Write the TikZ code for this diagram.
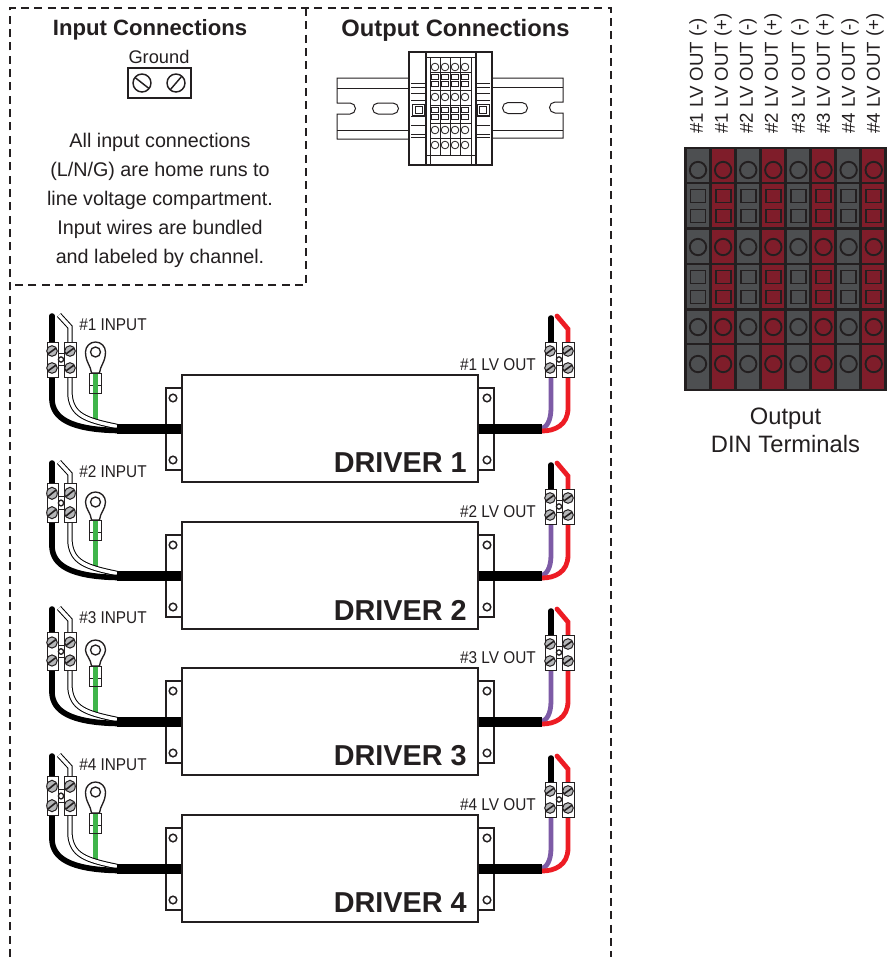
\documentclass[tikz,border=0pt]{standalone}
\usepackage{fontspec}
\setmainfont{Liberation Sans}
\newfontfamily\narrowfont[FakeStretch=.9]{Liberation Sans}
\usepackage{tikz}
\usetikzlibrary{
calc,
}
\definecolor{inkblack}{HTML}{231F20}
\definecolor{wiregreen}{HTML}{3FB54A}
\definecolor{wirepurple}{HTML}{7D5BA6}
\definecolor{wirered}{HTML}{ED1C24}
\definecolor{dingray}{HTML}{4D4F51}
\definecolor{dinred}{HTML}{7F1D2A}
\definecolor{screwgray}{HTML}{B5B6B8}
\tikzset{
	part/.style={draw=inkblack, line width=1.1pt, fill=white},
	thinpart/.style={draw=inkblack, line width=.75pt},
	dashedwall/.style={draw=inkblack, line width=2pt, dash pattern=on 6pt off 4pt},
	cable/.style={draw=black, line width=7.5pt},
	blackwire/.style={draw=black, line width=4.2pt},
	whitewire/.style={draw=black, line width=.75pt, double=white, double distance=2.6pt},
	greenwire/.style={draw=wiregreen, line width=4pt},
	purplewire/.style={draw=wirepurple, line width=3.6pt},
	redwire/.style={draw=wirered, line width=3.6pt},
	title/.style={font=\fontsize{16.6}{20}\selectfont\bfseries, text=inkblack},
	note/.style={font=\fontsize{14.8}{21.75}\selectfont, text=inkblack, align=center},
	wirelabel/.style={font=\narrowfont\fontsize{12.8}{15}\selectfont, text=inkblack, inner sep=0pt},
	drivername/.style={font=\fontsize{21.6}{25}\selectfont\bfseries, text=inkblack, inner sep=0pt},
	driverbox/.style={part, minimum width=222pt, minimum height=80pt, inner sep=0pt},
	dinlabel/.style={font=\fontsize{14}{16}\selectfont, text=inkblack, rotate=90, anchor=west, inner sep=0pt},
	terminal/.pic={
		\draw[thinpart, fill=white] (-3,-6) rectangle (3,6);
		\draw[thinpart, fill=white] (-14,-17.5) rectangle (-3,17.5);
		\draw[thinpart, fill=white] (3,-17.5) rectangle (15,17.5);
		\foreach \sx in {-9,9} \foreach \sy in {-8.5,8.5} {
			\draw[thinpart, fill=screwgray] (\sx,\sy) circle (5.3);
			\draw[thinpart, line width=1.2pt] ($(\sx,\sy)+(-3.8,2.7)$) -- ($(\sx,\sy)+(3.8,-2.7)$);
		}
		\draw[thinpart, fill=white, line width=1pt] (0,0) circle (2.6);
	},
}
\begin{document}
\begin{tikzpicture}[x=.75pt, y=-.75pt]
		\useasboundingbox (0,0) rectangle (887,957);

		% walls of the enclosure
		\draw[dashedwall] (10,957) -- (10,8) -- (611,8) -- (611,957);
		\draw[dashedwall] (306,8) -- (306,285) -- (10,285);

		\node[title] (inputtitle) at (150,30) {Input Connections};
		\node[title, font=\fontsize{17.8}{20}\selectfont\bfseries] (outputtitle) at (455.5,30) {Output Connections};
		\node[font=\fontsize{13.7}{16}\selectfont, text=inkblack, inner sep=0pt] (groundlabel) at (159,57) {Ground};
		\node[note] (inputnote) at (160,200.5) {All input connections\\(L/N/G) are home runs to\\line voltage compartment.\\Input wires are bundled\\and labeled by channel.};

		% ground block
		\draw[part, fill=none] (128,68) rectangle (191,98);
		\draw[part, fill=none] (142,83) circle (9);
		\draw[part, fill=none] (176,83) circle (9);
		\draw[part] (135,77.5) -- (149,88.5);
		\draw[part] (170,90) -- (182,76);

		% din rail
		\draw[thinpart, rounded corners=.1pt] (409,78) -- (337,78) -- (337,103) -- (350,103) arc (-90:90:5.5) -- (337,114) -- (337,139) -- (409,139);
		\draw[thinpart] (337,88) -- (409,88) (337,130) -- (409,130);
		\draw[thinpart] (492,78) -- (563,78) -- (563,102) -- (555,102) arc (270:90:5.5) -- (563,113) -- (563,138) -- (492,138);
		\draw[thinpart] (492,87.5) -- (563,87.5) (492,130) -- (563,130);
		\draw[thinpart] (378,103) -- (393,103) arc (-90:90:5.5) -- (378,114) arc (90:270:5.5) -- cycle;
		\draw[thinpart] (508,102.5) -- (522,102.5) arc (-90:90:5.5) -- (508,113.5) arc (90:270:5.5) -- cycle;

		% din block
		\draw[part] (409,52) rectangle (492,165);
		\draw[part] (426,52) rectangle (476,165);
		\draw[thinpart] (426,57) -- (476,57) (426,155) -- (476,155);
		\draw[thinpart] (430,57) -- (430,165) (471,57) -- (471,165);
		\foreach \gx in {440,450,460} \draw[thinpart] (\gx,57) -- (\gx,155);
		\foreach \gy in {72,90,105,123,138} \draw[thinpart] (430,\gy) -- (471,\gy);
		\foreach \cx in {435,445,455,465} {
			\foreach \cy in {67,97,130,145} \draw[thinpart, line width=.6pt] (\cx,\cy) circle (3.8);
			\foreach \cy in {77,84,110,117} \draw[thinpart, line width=.6pt] (\cx-3.5,\cy-2.8) rectangle (\cx+3.5,\cy+2.8);
		}
		\foreach \side/\sx in {1/0,-1/901} {
			\foreach \gy in {83,87,93,100,116,125,134,137}
				\draw[thinpart] (\sx+\side*411,\gy) -- (\sx+\side*425,\gy);
			\draw[thinpart] (\sx+\side*412,104) rectangle (\sx+\side*424,115);
			\draw[thinpart] (\sx+\side*415,106) rectangle (\sx+\side*422,113);
		}

		% output din terminals
		\fill[inkblack] (684,147) rectangle (887,391);
		\foreach \i in {0,...,7} {
			\pgfmathsetmacro{\cl}{684+25*\i+2.5}
			\pgfmathsetmacro{\cm}{698+25.1*\i}
			\pgfmathtruncatemacro{\odd}{mod(\i,2)}
			\ifnum\odd=0 \colorlet{dincol}{dingray}\else \colorlet{dincol}{dinred}\fi
			\foreach \rt/\rb in {149/182,184/227,230/263,265/308,311/343,345/389}
				\fill[dincol] (\cl,\rt) rectangle (\cl+22.8,\rb);
			\foreach \cy in {170,247,327,364} \draw[inkblack, line width=1.4pt] (\cm,\cy) circle (8.2);
			\foreach \cy in {196,216,277,297} \draw[inkblack, line width=1.4pt] (\cm-7.5,\cy-6.5) rectangle (\cm+7.5,\cy+6.5);
		}
		\foreach \lx/\ltxt [count=\k] in {698/\#1 LV OUT (-),723/\#1 LV OUT (+),748/\#2 LV OUT (-),773/\#2 LV OUT (+),800/\#3 LV OUT (-),825/\#3 LV OUT (+),850/\#4 LV OUT (-),875/\#4 LV OUT (+)}
			\node[dinlabel] (din\k) at (\lx,134) {\ltxt};
		\node[font=\fontsize{17.8}{21}\selectfont, text=inkblack, align=center] (dintitle) at (785.5,430) {Output\\DIN Terminals};

		% the four drivers
		\foreach \n/\dy/\tc/\ts/\rd in {1/0/359.5/1/352,2/147/356/1.14/355,3/293/358.5/1.06/357,4/440/356/1.14/352} {
			\begin{scope}[shift={(0,\dy)}]
				\draw[part] (166,388) rectangle (182,470);
				\draw[part] (478,388) rectangle (494,470);
				\node[driverbox] (driver\n) at (330,428.5) {};
				\foreach \hx in {173,487} \foreach \hy in {398,460} \draw[part] (\hx,\hy) circle (3.8);
				\node[drivername, anchor=east] (name\n) at (467,463) {DRIVER \n};
				\node[wirelabel, anchor=west] (input\n) at (79,325) {\#\n{} INPUT};
				\node[wirelabel, anchor=east] (lvout\n) at (536,364.5) {\#\n{} LV OUT};

				\coordinate (cablein\n) at (117,428.5);
				\coordinate (cableout\n) at (542,428.5);
				\coordinate (interm\n) at (61,\tc);
				\coordinate (outterm\n) at (559,359.5);
				\coordinate (ring\n) at (95.5,\rd);

				% input side
				\draw[greenwire] (95.5,373) -- (95.5,422);
				\draw[blackwire, line cap=round] (52,316) -- (52,345);
				\draw[whitewire] (59,315) -- (70,327) -- (70,345);
				\draw[whitewire] (70,370) -- (70,395) .. controls (72,415) and (85,420) .. (117,426.5);
				\draw[blackwire] (52,370) -- (52,400) .. controls (53,418) and (70,429.5) .. (117,430.5);
				\pic[yscale=\ts] at (interm\n) {terminal};
				\draw[thinpart, fill=white, line width=1pt] (ring\n) ++(-10,0) arc (180:360:10) .. controls (105.5,362) and (100,366) .. (99.5,373) -- (91.5,373) .. controls (91,366) and (85.5,362) .. cycle;
				\draw[thinpart, line width=1pt] (ring\n) circle (5);
				\draw[greenwire] (95.5,373) -- (95.5,393);
				\draw[thinpart] (89.5,373) rectangle (101.5,393) (89.5,385) -- (101.5,385);
				\draw[greenwire, line width=3.6pt] (95.5,374) -- (95.5,392);

				% output side
				\draw[purplewire] (551,370) -- (551,408) .. controls (551,422) and (546,427) .. (cableout\n);
				\draw[redwire] (568,370) -- (568,408) .. controls (568,425) and (555,431) .. (542,431);
				\draw[blackwire, line cap=round] (551,318) -- (551,345);
				\draw[redwire, line cap=round] (557,316) -- (568,329) -- (568,345);
				\pic at (outterm\n) {terminal};

				\draw[cable] (cablein\n) -- (driver\n.west);
				\draw[cable] (driver\n.east) -- (cableout\n);
			\end{scope}
		}
\end{tikzpicture}
\end{document}
